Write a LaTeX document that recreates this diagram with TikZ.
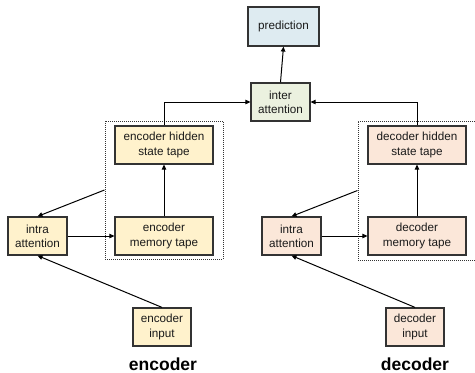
\documentclass[tikz,border=0pt]{standalone}
\usepackage{fontspec}
\setmainfont{Liberation Sans}
\usetikzlibrary{arrows.meta}
\definecolor{encfill}{HTML}{FFF2CC}
\definecolor{decfill}{HTML}{FBE7D9}
\definecolor{interfill}{HTML}{EBF1DF}
\definecolor{predfill}{HTML}{DEEBF1}
\definecolor{edge}{HTML}{333333}
\definecolor{txt}{HTML}{1A1A1A}
\tikzset{
  box/.style={draw=edge, line width=1.2pt, minimum height=38pt, align=center, inner sep=1pt, text=txt,
    font=\fontsize{11.7}{14.3}\selectfont},
  tapebox/.style={box, minimum width=98pt},
  smallbox/.style={box, minimum width=59pt},
  dashbox/.style={draw=edge, line width=1pt, densely dotted, inner sep=0pt},
  conn/.style={draw=black, line width=1pt, -{Triangle[length=5pt,width=4.5pt]}},
  title/.style={font=\fontsize{17.5}{20}\selectfont\bfseries, text=black, anchor=base, inner sep=0pt}
}
\begin{document}
\begin{tikzpicture}[x=1pt,y=-1pt]
\useasboundingbox (0,0) rectangle (475,373);
% dashed groups
\node[dashbox, minimum width=118pt, minimum height=138pt] (edash) at (164,190) {};
\node[dashbox, minimum width=122pt, minimum height=139pt] (ddash) at (419,190.5) {};
% top
\node[box, fill=predfill, minimum width=71pt, minimum height=39pt] (pred) at (283.5,26.5) {prediction};
\node[smallbox, fill=interfill] (inter) at (280.5,102) {inter\\attention};
% encoder
\node[tapebox, fill=encfill] (ehid) at (164,145) {encoder hidden\\state tape};
\node[tapebox, fill=encfill] (emem) at (164,236) {encoder\\memory tape};
\node[smallbox, fill=encfill] (eintra) at (37.5,236) {intra\\attention};
\node[box, fill=encfill, minimum width=58pt] (einput) at (162,327) {encoder\\input};
\node[title] (elabel) at (163,370.5) {encoder};
% decoder
\node[tapebox, fill=decfill] (dhid) at (417,145) {decoder hidden\\state tape};
\node[tapebox, fill=decfill] (dmem) at (417,236) {decoder\\memory tape};
\node[smallbox, fill=decfill] (dintra) at (291.5,236) {intra\\attention};
\node[box, fill=decfill, minimum width=58pt] (dinput) at (415,327) {decoder\\input};
\node[title] (dlabel) at (415,370.5) {decoder};
% connectors
\draw[conn] (inter.north) -- (pred.south);
\draw[conn] (ehid.north) |- (inter.west);
\draw[conn] (dhid.north) |- (inter.east);
\draw[conn] (emem.north) -- (ehid.south);
\draw[conn] (dmem.north) -- (dhid.south);
\draw[conn] (eintra.east) -- (emem.west);
\draw[conn] (dintra.east) -- (dmem.west);
\draw[conn] (edash.west) -- (eintra.north);
\draw[conn] (ddash.west) -- (dintra.north);
\draw[conn] (einput.north) -- (eintra.south);
\draw[conn] (dinput.north) -- (dintra.south);
\end{tikzpicture}
\end{document}
